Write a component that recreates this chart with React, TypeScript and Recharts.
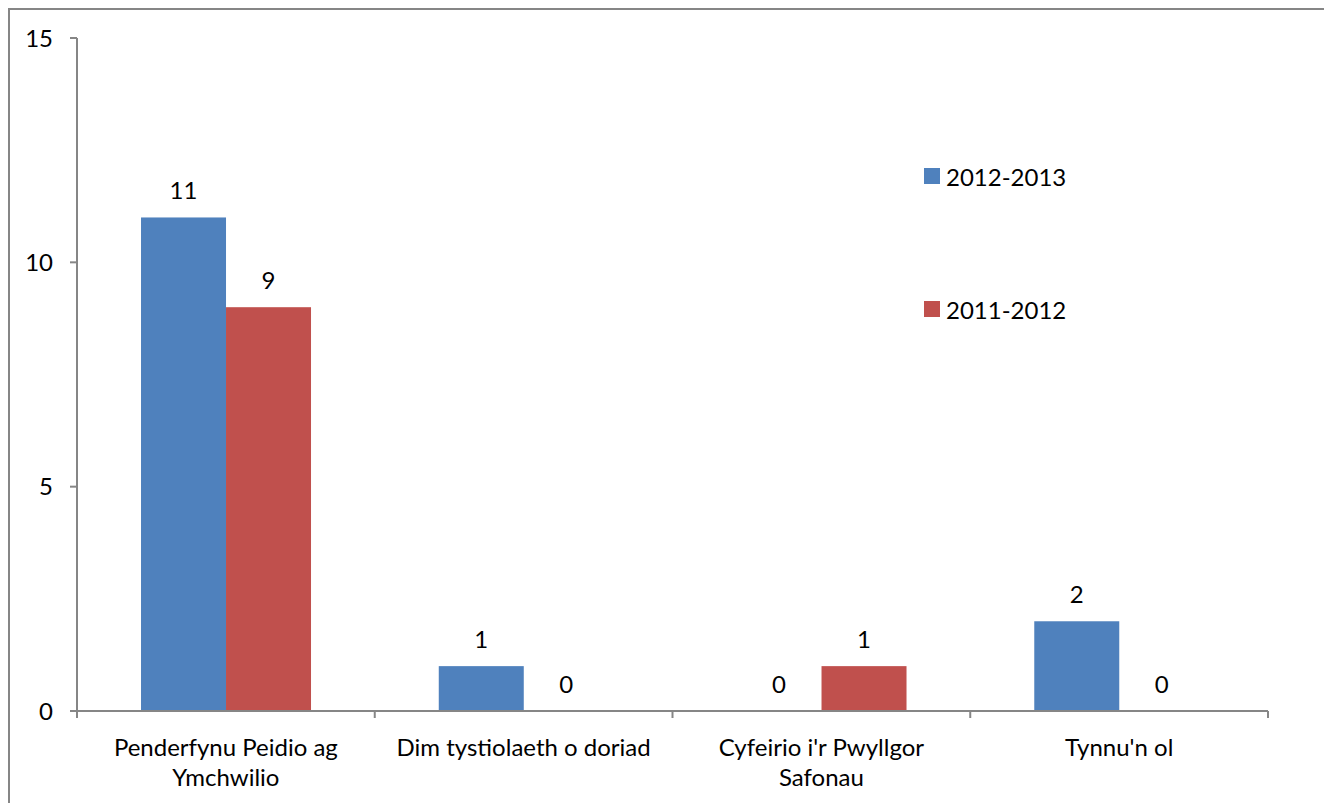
import React from 'react';
import { BarChart, Bar, XAxis, YAxis, Legend } from 'recharts';

const categories = ['Penderfynu Peidio ag Ymchwilio', 'Dim tystiolaeth o doriad', "Cyfeirio i'r Pwyllgor Safonau", "Tynnu'n ol"];
const categoryLines = [['Penderfynu Peidio ag', 'Ymchwilio'], ['Dim tystiolaeth o doriad'], ["Cyfeirio i'r Pwyllgor", 'Safonau'], ["Tynnu'n ol"]];
const values2012_2013 = [11, 1, 0, 2];
const values2011_2012 = [9, 0, 1, 0];
const seriesNames = ['2012-2013', '2011-2012'];
const yTicks = [0, 5, 10, 15];

const data = categories.map((name, i) => ({
  name,
  a: values2012_2013[i],
  b: values2011_2012[i],
}));

const BLUE = '#4F81BD';
const RED = '#C0504D';
const AXIS = '#868686';
const FONT = 24;

const CHART_W = 1314;
const CHART_H = 808;
const MARGIN = { top: 28, right: 56, left: 0, bottom: 30 };
const Y_AXIS_W = 67;
const BAND = (CHART_W - MARGIN.left - MARGIN.right - Y_AXIS_W) / categories.length;

// category label plus the tick marks on the category boundaries
const CategoryTick = (props: any) => {
  const { x, y, index } = props;
  const lines = categoryLines[index] || [props.payload.value];
  const left = x - BAND / 2;
  const right = x + BAND / 2;
  return (
    <g>
      <line x1={left} x2={left} y1={y} y2={y + 7} stroke={AXIS} strokeWidth={2} />
      {index === categories.length - 1 && (
        <line x1={right} x2={right} y1={y} y2={y + 7} stroke={AXIS} strokeWidth={2} />
      )}
      <text x={x} y={y} textAnchor="middle" fill="#000" fontSize={FONT}>
        {lines.map((l, i) => (
          <tspan key={i} x={x} dy={i === 0 ? 45 : 30}>{l}</tspan>
        ))}
      </text>
    </g>
  );
};

const LegendContent = (props: any) => {
  const items = [...(props.payload || [])].sort(
    (p: any, q: any) => seriesNames.indexOf(p.value) - seriesNames.indexOf(q.value)
  );
  return (
    <div>
      {items.map((it: any, i: number) => (
        <div key={i} style={{ display: 'flex', alignItems: 'center', height: 30, marginBottom: i === 0 ? 103 : 0 }}>
          <span style={{ display: 'inline-block', width: 16, height: 16, background: it.color, marginRight: 6 }} />
          <span style={{ fontSize: FONT, color: '#000' }}>{it.value}</span>
        </div>
      ))}
    </div>
  );
};

// draws the bar plus its value, so zero values still get a label
const BarWithLabel = (props: any) => {
  const { x, y, width, height, fill, value } = props;
  const v = Array.isArray(value) ? value[1] - value[0] : value;
  return (
    <g>
      {height > 0 && <rect x={x} y={y} width={width} height={height} fill={fill} />}
      <text x={x + width / 2} y={y - 18} textAnchor="middle" fill="#000" fontSize={FONT}>{v}</text>
    </g>
  );
};

export default function App() {
  return (
    <div style={{ width: 1318, height: 820, border: `2px solid ${AXIS}`, boxSizing: 'border-box', fontFamily: 'Lato, "Open Sans", sans-serif' }}>
      <BarChart
        width={CHART_W}
        height={CHART_H}
        data={data}
        margin={MARGIN}
        barCategoryGap="21.5%"
        barGap={0}
      >
        <XAxis
          dataKey="name"
          axisLine={{ stroke: AXIS, strokeWidth: 2 }}
          tickLine={false}
          tickSize={0}
          tickMargin={0}
          tick={<CategoryTick />}
          interval={0}
          height={77}
        />
        <YAxis
          domain={[0, 15]}
          ticks={yTicks}
          width={Y_AXIS_W}
          tickSize={7}
          tickMargin={17}
          axisLine={{ stroke: AXIS, strokeWidth: 2 }}
          tickLine={{ stroke: AXIS, strokeWidth: 2 }}
          tick={{ fill: '#000', fontSize: FONT }}
        />
        <Legend
          layout="horizontal"
          verticalAlign="middle"
          align="center"
          content={<LegendContent />}
          wrapperStyle={{ left: 914, top: 151, width: 220 }}
        />
        <Bar dataKey="a" name={seriesNames[0]} fill={BLUE} isAnimationActive={false} shape={<BarWithLabel />} />
        <Bar dataKey="b" name={seriesNames[1]} fill={RED} isAnimationActive={false} shape={<BarWithLabel />} />
      </BarChart>
    </div>
  );
}
